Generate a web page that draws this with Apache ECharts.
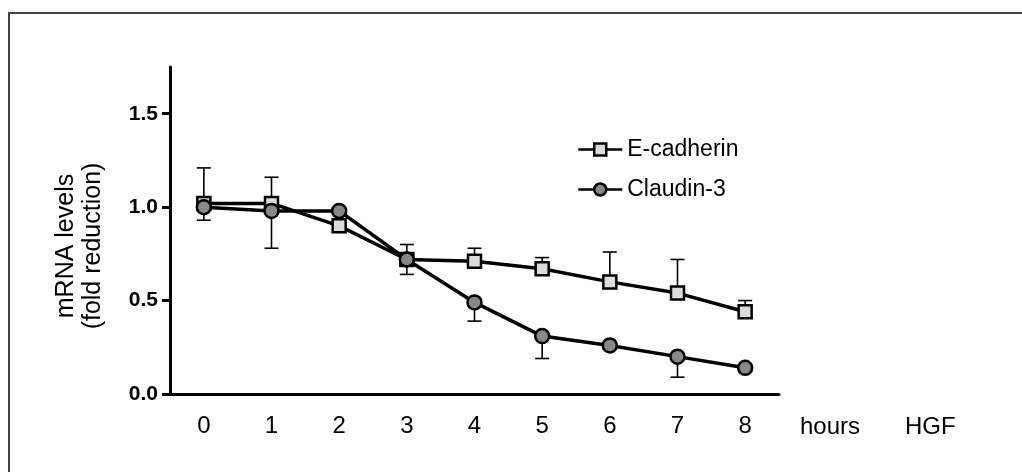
<!DOCTYPE html>
<html>
<head>
<meta charset="utf-8">
<title>mRNA levels</title>
<script src="https://cdn.jsdelivr.net/npm/echarts@6/dist/echarts.min.js"></script>
<style>
    html, body { margin: 0; padding: 0; background: #fff; }
    #chart { width: 1022px; height: 472px; }
</style>
</head>
<body>
<div id="chart"></div>
<script>
// hours of HGF
var hours = ['0', '1', '2', '3', '4', '5', '6', '7', '8'];
var yTicks = [0, 0.5, 1.0, 1.5];

// E-cadherin: mean and upper error
var ecadMean = [1.02, 1.02, 0.90, 0.72, 0.71, 0.67, 0.60, 0.54, 0.44];
var ecadErr = [0.19, 0.14, 0.02, 0.08, 0.07, 0.06, 0.16, 0.18, 0.06];

// Claudin-3: mean and lower error
var claudinMean = [1.00, 0.98, 0.98, 0.72, 0.49, 0.31, 0.26, 0.20, 0.14];
var claudinErr = [0.07, 0.20, 0.02, 0.08, 0.10, 0.12, 0.02, 0.11, 0.02];

var fontName = '"Liberation Sans", Arial, Helvetica, sans-serif';

function errData(mean, err, dir) {
    let arr = [];
    for (let i = 0; i < mean.length; i++) {
        arr.push([i, mean[i], mean[i] + dir * err[i]]);
    }
    return arr;
}

// error bar: stem from the point plus a cap
function renderErr(params, api) {
    let p0 = api.coord([api.value(0), api.value(1)]);
    let p1 = api.coord([api.value(0), api.value(2)]);
    let half = 7;
    return {
        type: 'group',
        children: [{
            type: 'line',
            shape: { x1: p0[0], y1: p0[1], x2: p1[0], y2: p1[1] },
            style: { stroke: '#000', lineWidth: 1.6 }
        }, {
            type: 'line',
            shape: { x1: p1[0] - half, y1: p1[1], x2: p1[0] + half, y2: p1[1] },
            style: { stroke: '#000', lineWidth: 1.6 }
        }]
    };
}

let myChart = echarts.init(document.getElementById('chart'));
let option = {
    animation: false,
    backgroundColor: '#fff',
    textStyle: { fontFamily: fontName },
    grid: { left: 170, right: 243, top: 67, bottom: 78 },
    legend: {
        orient: 'vertical',
        left: 572,
        top: 133,
        itemWidth: 44,
        itemHeight: 15,
        itemGap: 17,
        itemTextGap: 6,
        data: ['E-cadherin', 'Claudin-3'],
        lineStyle: { width: 2.5 },
        itemStyle: { borderWidth: 2.5 },
        textStyle: { fontSize: 23, color: '#000', fontFamily: fontName }
    },
    xAxis: {
        type: 'category',
        data: hours,
        boundaryGap: true,
        axisLine: { lineStyle: { color: '#000', width: 3 } },
        axisTick: { alignWithLabel: true, length: 8, lineStyle: { color: '#000', width: 3 } },
        axisLabel: { fontSize: 24, color: '#000', margin: 20, fontFamily: fontName },
        splitLine: { show: false }
    },
    yAxis: {
        type: 'value',
        min: 0,
        max: 1.75,
        axisLine: { show: true, lineStyle: { color: '#000', width: 3 } },
        axisTick: { show: true, length: 8, customValues: yTicks, lineStyle: { color: '#000', width: 3 } },
        axisLabel: {
            customValues: yTicks,
            fontSize: 21,
            fontWeight: 'bold',
            color: '#000',
            margin: 12,
            fontFamily: fontName,
            formatter: function (v) { return v.toFixed(1); }
        },
        splitLine: { show: false }
    },
    graphic: [{
        type: 'rect',
        shape: { x: 9, y: 13, width: 1040, height: 490 },
        style: { fill: 'none', stroke: '#444', lineWidth: 2 },
        silent: true
    }, {
        type: 'text',
        x: 80,
        y: 246,
        rotation: Math.PI / 2,
        style: {
            text: 'mRNA levels\n(fold reduction)',
            fontSize: 25,
            lineHeight: 27,
            fontFamily: fontName,
            fill: '#000',
            align: 'center',
            verticalAlign: 'middle'
        }
    }, {
        type: 'text',
        x: 800,
        y: 427,
        style: { text: 'hours', fontSize: 24, fontFamily: fontName, fill: '#000', verticalAlign: 'middle' }
    }, {
        type: 'text',
        x: 905,
        y: 427,
        style: { text: 'HGF', fontSize: 24, fontFamily: fontName, fill: '#000', verticalAlign: 'middle' }
    }],
    series: [{
        name: 'E-cadherin err',
        type: 'custom',
        renderItem: renderErr,
        data: errData(ecadMean, ecadErr, 1),
        encode: { x: 0, y: [1, 2] },
        z: 1
    }, {
        name: 'Claudin-3 err',
        type: 'custom',
        renderItem: renderErr,
        data: errData(claudinMean, claudinErr, -1),
        encode: { x: 0, y: [1, 2] },
        z: 1
    }, {
        name: 'E-cadherin',
        type: 'line',
        data: ecadMean,
        symbol: 'rect',
        symbolSize: 13,
        lineStyle: { color: '#000', width: 3.5 },
        itemStyle: { color: '#dcdcdc', borderColor: '#000', borderWidth: 2.5 },
        z: 3
    }, {
        name: 'Claudin-3',
        type: 'line',
        data: claudinMean,
        symbol: 'circle',
        symbolSize: 14,
        lineStyle: { color: '#000', width: 3.5 },
        itemStyle: { color: '#888888', borderColor: '#000', borderWidth: 2.5 },
        z: 4
    }]
};
myChart.setOption(option);
</script>
</body>
</html>
